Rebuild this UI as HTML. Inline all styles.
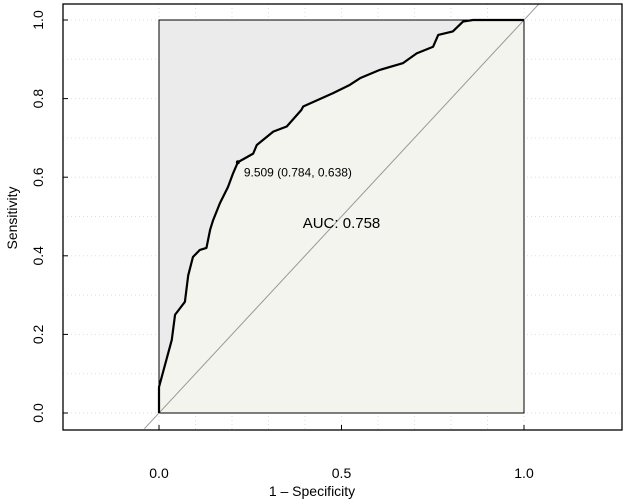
<!DOCTYPE html>
<html><head><meta charset="utf-8"><style>
html,body{margin:0;padding:0;background:#fff}
svg{display:block;font-family:"Liberation Sans",Arial,sans-serif}
</style></head><body>
<svg id="chart" width="624" height="501" viewBox="0 0 624 501">
<g id="grid"></g>
<g id="areas"></g>
<g id="marks"></g>
<g id="axes"></g>
<text x="312" y="496" font-size="14" text-anchor="middle" fill="#000">1 – Specificity</text>
<text transform="translate(17,218) rotate(-90)" font-size="14" text-anchor="middle" fill="#000">Sensitivity</text>
</svg>
<script>
const fprValues=[0,0,0.007,0.035,0.044,0.071,0.08,0.093,0.112,0.13,0.14,0.148,0.167,0.189,0.203,0.216,0.258,0.268,0.313,0.35,0.39,0.395,0.477,0.523,0.551,0.605,0.668,0.706,0.751,0.765,0.805,0.833,0.86,1];
const tprValues=[0,0.066,0.09,0.186,0.25,0.283,0.35,0.397,0.415,0.42,0.466,0.49,0.534,0.575,0.61,0.638,0.66,0.682,0.716,0.729,0.771,0.78,0.814,0.835,0.852,0.873,0.89,0.915,0.932,0.962,0.971,0.996,1,1];
const xTickValues=[0,0.5,1];
const xTickLabels=["0.0","0.5","1.0"];
const yTickValues=[0,0.2,0.4,0.6,0.8,1];
const yTickLabels=["0.0","0.2","0.4","0.6","0.8","1.0"];
const cutoffPoint=[0.216,0.638];
const cutoffLabel="9.509 (0.784, 0.638)";
const aucLabel="AUC: 0.758";

const NS="http://www.w3.org/2000/svg";
const X=v=>159+v*365, Y=v=>413-v*393;
function mk(parent,tag,attrs){const e=document.createElementNS(NS,tag);for(const k in attrs)e.setAttribute(k,attrs[k]);document.getElementById(parent).appendChild(e);return e;}
for(let i=0;i<=10;i++){
 const v=i/10;
 let g=mk('grid','line',{x1:X(v),x2:X(v),y1:4,y2:430,stroke:'#ddd','stroke-dasharray':'1 3','stroke-width':1});
 
 
 g=mk('grid','line',{x1:63,x2:622,y1:Y(v),y2:Y(v),stroke:'#ddd','stroke-dasharray':'1 3','stroke-width':1});
 
 
}
let pts=fprValues.map((f,i)=>X(f)+','+Y(tprValues[i]));
let e=mk('areas','rect',{x:X(0),y:Y(1),width:X(1)-X(0),height:Y(0)-Y(1),fill:'#ebebeb'});


e=mk('areas','polygon',{points:pts.join(' ')+' '+X(1)+','+Y(0),fill:'#f4f4ee'});


e=mk('areas','rect',{x:X(0),y:Y(1),width:X(1)-X(0),height:Y(0)-Y(1),fill:'none',stroke:'#000','stroke-width':1});


e=mk('marks','line',{x1:X(-0.04),y1:Y(-0.04),x2:X(1.04),y2:Y(1.04),stroke:'#999','stroke-width':1});


let d='M'+X(fprValues[0])+','+Y(tprValues[0]);
for(let i=1;i<fprValues.length;i++){d+=' L'+X(fprValues[i])+','+Y(tprValues[i]);}
e=mk('marks','path',{d:d,fill:'none',stroke:'#000','stroke-width':2.2,'stroke-linejoin':'round'});


e=mk('marks','circle',{cx:X(cutoffPoint[0]),cy:Y(cutoffPoint[1]),r:2,fill:'#000'});


e=mk('marks','text',{x:X(cutoffPoint[0])+6,y:Y(cutoffPoint[1])+14,'font-size':12,fill:'#000'});
e.textContent=cutoffLabel;


e=mk('marks','text',{x:X(0.5),y:228,'font-size':15,fill:'#000','text-anchor':'middle'});
e.textContent=aucLabel;


e=mk('axes','rect',{x:63,y:4,width:559,height:426,fill:'none',stroke:'#000','stroke-width':1.3});


xTickValues.forEach((v,i)=>{
 let t=mk('axes','line',{x1:X(v),x2:X(v),y1:430,y2:425,stroke:'#000'});
 
 
 t=mk('axes','text',{x:X(v),y:478,'font-size':14,'text-anchor':'middle',fill:'#000'});
 t.textContent=xTickLabels[i];
 
 
});
yTickValues.forEach((v,i)=>{
 let t=mk('axes','line',{x1:63,x2:68,y1:Y(v),y2:Y(v),stroke:'#000'});
 
 
 t=mk('axes','text',{transform:'translate(43,'+Y(v)+') rotate(-90)','font-size':14,'text-anchor':'middle',fill:'#000'});
 t.textContent=yTickLabels[i];
 
 
});
</script>
</body></html>
